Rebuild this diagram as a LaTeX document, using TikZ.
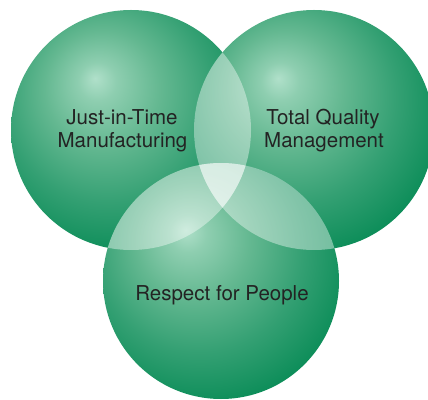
\documentclass[tikz,border=0pt]{standalone}
\usepackage{fontspec}
\setmainfont{TeX Gyre Heros}
\definecolor{gHi}{RGB}{176,224,202}
\definecolor{gA}{RGB}{142,206,176}
\definecolor{gB}{RGB}{100,184,145}
\definecolor{gC}{RGB}{52,160,115}
\definecolor{gD}{RGB}{14,142,90}
\definecolor{gE}{RGB}{0,134,80}
\definecolor{txt}{RGB}{35,35,35}
\pgfdeclareradialshading{greenball}{\pgfpoint{-7.5bp}{10.8bp}}{%
  color(0bp)=(gHi); color(4bp)=(gA); color(12bp)=(gB); color(22bp)=(gC); color(31bp)=(gD); color(40bp)=(gE); color(60bp)=(gE)}
\tikzset{
  lbl/.style={anchor=base, inner sep=0pt, text=txt, font=\fontsize{20.5}{23}\selectfont},
  ball/.style={shading=greenball},
  lighten/.style={fill=white, opacity=0.4}
}
\begin{document}
\begin{tikzpicture}[x=1pt,y=1pt]
\useasboundingbox (0,0) rectangle (428,399);
\coordinate (L) at (131,269);
\coordinate (R) at (314,269);
\coordinate (B) at (221,118);
\shade[ball] (L) circle[radius=120pt];
\shade[ball] (R) circle[radius=120pt];
\shade[ball] (B) circle[radius=118pt];
\begin{scope}
  \clip (L) circle[radius=120pt];
  \fill[lighten] (R) circle[radius=120pt];
\end{scope}
\begin{scope}
  \clip (L) circle[radius=120pt];
  \fill[lighten] (B) circle[radius=118pt];
\end{scope}
\begin{scope}
  \clip (R) circle[radius=120pt];
  \fill[lighten] (B) circle[radius=118pt];
\end{scope}
\node[lbl] (jit1) at (122,274) {Just-in-Time};
\node[lbl] (jit2) at (122.5,251) {Manufacturing};
\node[lbl] (tqm1) at (323,274) {Total Quality};
\node[lbl] (tqm2) at (324,251) {Management};
\node[lbl] (rfp) at (222,99) {Respect for People};
\end{tikzpicture}
\end{document}
